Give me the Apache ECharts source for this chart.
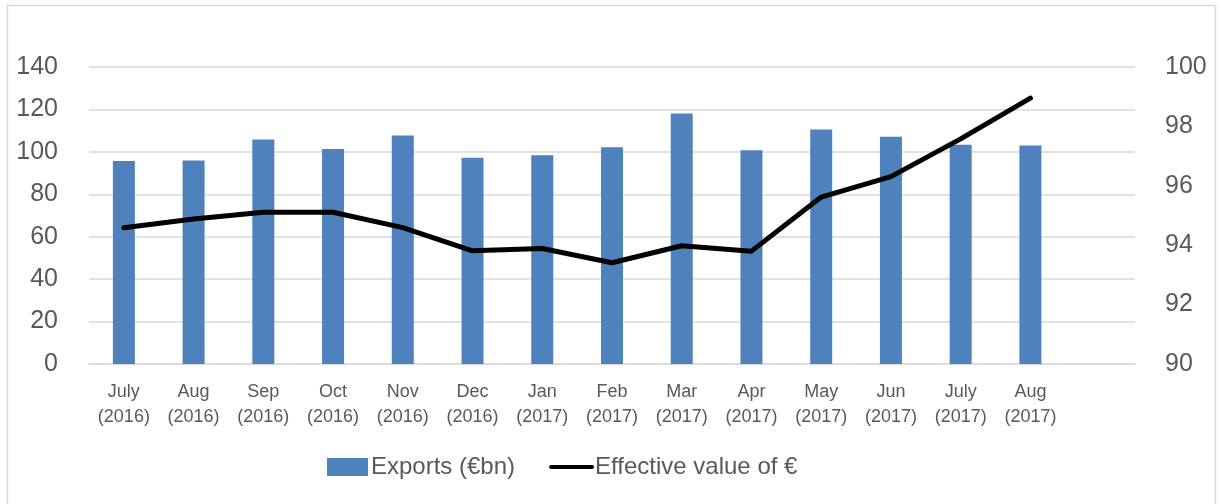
<!DOCTYPE html>
<html>
<head>
<meta charset="utf-8">
<script src="https://cdn.jsdelivr.net/npm/echarts@6/dist/echarts.min.js"></script>
<style>
  html, body { margin: 0; padding: 0; background: #fff; }
  #chart { width: 1220px; height: 504px; }
</style>
</head>
<body>
<div id="chart"></div>
<script>
  // months, last slot is empty like in the original sheet
  var months = ['July\n(2016)', 'Aug\n(2016)', 'Sep\n(2016)', 'Oct\n(2016)', 'Nov\n(2016)', 'Dec\n(2016)',
    'Jan\n(2017)', 'Feb\n(2017)', 'Mar\n(2017)', 'Apr\n(2017)', 'May\n(2017)', 'Jun\n(2017)',
    'July\n(2017)', 'Aug\n(2017)', ''];
  var exports = [95.7, 95.9, 105.8, 101.3, 107.7, 97.2, 98.4, 102.2, 118.1, 100.8, 110.5, 107.1, 103.4, 103.0];
  var euroValue = [94.59, 94.88, 95.11, 95.11, 94.59, 93.81, 93.89, 93.41, 93.98, 93.80, 95.62, 96.31, 97.58, 98.95];

  var gray = '#595959';
  var gridGray = '#d9d9d9';
  var font = '"Liberation Sans", Arial, sans-serif';

  var myChart = echarts.init(document.getElementById('chart'));
  var option = {
    animation: false,
    backgroundColor: '#fff',
    textStyle: { fontFamily: font },
    graphic: [{
      type: 'rect',
      shape: { x: 7.5, y: 5.5, width: 1208, height: 520 },
      style: { fill: 'none', stroke: gridGray, lineWidth: 1.5 },
      silent: true
    }],
    grid: { left: 89, right: 85, top: 67, bottom: 140 },
    legend: {
      left: 322,
      top: 450,
      itemGap: 34,
      itemWidth: 41,
      itemHeight: 18,
      textStyle: { fontSize: 24, color: gray, fontFamily: font, padding: [0, 0, 0, -2] },
      data: [
        { name: 'Exports (€bn)', icon: 'rect' },
        {
          name: 'Effective value of €',
          itemStyle: { opacity: 0 },
          lineStyle: { color: '#000', width: 4, cap: 'round' }
        }
      ]
    },
    xAxis: {
      type: 'category',
      data: months,
      axisTick: { show: false },
      axisLine: { lineStyle: { color: gridGray, width: 1.5 } },
      axisLabel: { color: gray, fontSize: 18, lineHeight: 25, margin: 16, interval: 0 }
    },
    yAxis: [
      {
        type: 'value',
        min: 0, max: 140, interval: 20,
        axisLine: { show: false },
        axisTick: { show: false },
        splitLine: { lineStyle: { color: gridGray, width: 1.5 } },
        axisLabel: { color: gray, fontSize: 25, margin: 31 }
      },
      {
        type: 'value',
        min: 90, max: 100, interval: 2,
        axisLine: { show: false },
        axisTick: { show: false },
        splitLine: { show: false },
        axisLabel: { color: gray, fontSize: 25, margin: 30 }
      }
    ],
    series: [
      {
        name: 'Exports (€bn)',
        type: 'bar',
        data: exports,
        barWidth: 22,
        itemStyle: { color: '#4f81bd' }
      },
      {
        name: 'Effective value of €',
        type: 'line',
        yAxisIndex: 1,
        data: euroValue,
        symbol: 'none',
        lineStyle: { color: '#000', width: 5, cap: 'round', join: 'round' },
        itemStyle: { color: '#000' }
      }
    ]
  };
  myChart.setOption(option);
  window.addEventListener('resize', function () {
    myChart.resize();
  });
</script>
</body>
</html>
